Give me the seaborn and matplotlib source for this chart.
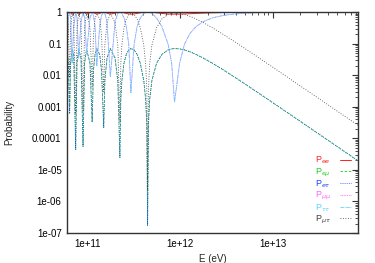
import seaborn as sns
import matplotlib.pyplot as plt
from matplotlib.ticker import FixedLocator, LogLocator, NullFormatter

# neutrino energy samples (eV)
energy = [6.000e10, 6.181e10, 6.384e10, 6.544e10, 6.794e10, 7.063e10, 7.427e10,
          7.672e10, 8.004e10, 8.476e10, 8.916e10, 9.271e10, 9.737e10, 1.0595e11,
          1.1187e11, 1.1558e11, 1.2027e11, 1.2553e11, 1.3485e11, 1.4127e11,
          1.4923e11, 1.5345e11, 1.6182e11, 1.7589e11, 1.9778e11, 2.1190e11,
          2.2317e11, 2.2821e11, 2.3421e11, 2.4722e11, 2.6176e11, 2.7813e11,
          2.9334e11, 3.1786e11, 3.4231e11, 3.7083e11, 4.0455e11, 4.2381e11,
          4.3627e11, 4.4478e11, 4.5408e11, 4.6842e11, 4.9444e11, 5.5625e11,
          6.3571e11, 7.4167e11, 8.0909e11, 8.6914e11, 9.8889e11, 1.1125e12,
          1.2714e12, 1.4833e12, 1.78e12, 2.225e12, 2.9667e12, 4.45e12,
          6.3571e12, 1.1125e13, 2.225e13, 4.45e13, 8.396e13]

p_ee = [0.8693, 0.9516, 0.9988, 0.9516, 0.8634, 0.9084, 0.99991, 0.9516, 0.8649,
        0.93, 0.99989, 0.9516, 0.8667, 0.9516, 0.99933, 0.9711, 0.9084, 0.8628,
        0.9084, 0.9711, 0.99955, 0.9866, 0.93, 0.8612, 0.93, 0.9866, 0.99995,
        0.9966, 0.9866, 0.9516, 0.9084, 0.8734, 0.8604, 0.8734, 0.9084, 0.9516,
        0.9866, 0.9966, 0.99945, 1.0, 0.99945, 0.9966, 0.9866, 0.9516, 0.9084,
        0.8734, 0.8634, 0.8602, 0.8634, 0.8734, 0.8889, 0.9084, 0.93, 0.9516,
        0.9711, 0.9866, 0.9933, 0.9978, 0.99945, 0.99986, 0.99996]

p_emu = [0.06535, 0.02418, 6.199e-4, 0.02418, 0.06829, 0.04582, 4.422e-5, 0.02418,
         0.06754, 0.035, 5.596e-5, 0.02418, 0.06667, 0.02418, 3.339e-4, 0.01443,
         0.04582, 0.06861, 0.04582, 0.01443, 2.237e-4, 0.006684, 0.035, 0.06938,
         0.035, 0.006684, 2.487e-5, 0.001713, 0.006684, 0.02418, 0.04582, 0.06332,
         0.0698, 0.06332, 0.04582, 0.02418, 0.006684, 0.001713, 2.760e-4, 1.727e-7,
         2.760e-4, 0.001713, 0.006684, 0.02418, 0.04582, 0.06332, 0.06829, 0.0699,
         0.06829, 0.06332, 0.05557, 0.04582, 0.035, 0.02418, 0.01443, 0.006684,
         0.003331, 0.0011, 2.760e-4, 6.906e-5, 1.940e-5]

p_etau = [0.06535, 0.02418, 6.199e-4, 0.02418, 0.06829, 0.04582, 4.422e-5, 0.02418,
          0.06754, 0.035, 5.596e-5, 0.02418, 0.06667, 0.02418, 3.339e-4, 0.01443,
          0.04582, 0.06861, 0.04582, 0.01443, 2.237e-4, 0.006684, 0.035, 0.06938,
          0.035, 0.006684, 2.487e-5, 0.001713, 0.006684, 0.02418, 0.04582, 0.06332,
          0.0698, 0.06332, 0.04582, 0.02418, 0.006684, 0.001713, 2.760e-4, 1.727e-7,
          2.760e-4, 0.001713, 0.006684, 0.02418, 0.04582, 0.06332, 0.06829, 0.0699,
          0.06829, 0.06332, 0.05557, 0.04582, 0.035, 0.02418, 0.01443, 0.006684,
          0.003331, 0.0011, 2.760e-4, 6.906e-5, 1.940e-5]

p_mumu = [0.06646, 0.6545, 0.9911, 0.6545, 0.02447, 0.3455, 0.99937, 0.6545,
          0.03511, 0.5, 0.9992, 0.6545, 0.04759, 0.6545, 0.9952, 0.7939, 0.3455,
          0.01985, 0.3455, 0.7939, 0.9968, 0.9045, 0.5, 0.008856, 0.5, 0.9045,
          0.99964, 0.9755, 0.9045, 0.6545, 0.3455, 0.09549, 0.00285, 0.09549,
          0.3455, 0.6545, 0.9045, 0.9755, 0.9961, 1.0, 0.9961, 0.9755, 0.9045,
          0.6545, 0.3455, 0.09549, 0.02447, 0.00142, 0.02447, 0.09549, 0.2061,
          0.3455, 0.5, 0.6545, 0.7939, 0.9045, 0.9524, 0.9843, 0.9961, 0.9990, 0.9997]

p_tautau = [0.06646, 0.6545, 0.9911, 0.6545, 0.02447, 0.3455, 0.99937, 0.6545,
            0.03511, 0.5, 0.9992, 0.6545, 0.04759, 0.6545, 0.9952, 0.7939, 0.3455,
            0.01985, 0.3455, 0.7939, 0.9968, 0.9045, 0.5, 0.008856, 0.5, 0.9045,
            0.99964, 0.9755, 0.9045, 0.6545, 0.3455, 0.09549, 0.00285, 0.09549,
            0.3455, 0.6545, 0.9045, 0.9755, 0.9961, 1.0, 0.9961, 0.9755, 0.9045,
            0.6545, 0.3455, 0.09549, 0.02447, 0.00142, 0.02447, 0.09549, 0.2061,
            0.3455, 0.5, 0.6545, 0.7939, 0.9045, 0.9524, 0.9843, 0.9961, 0.9990, 0.9997]

p_mutau = [0.8682, 0.3213, 0.008236, 0.3213, 0.9072, 0.6087, 5.875e-4, 0.3213,
           0.8973, 0.465, 7.434e-4, 0.3213, 0.8857, 0.3213, 0.004436, 0.1917,
           0.6087, 0.9115, 0.6087, 0.1917, 0.002971, 0.08881, 0.465, 0.9218, 0.465,
           0.08881, 3.304e-4, 0.02276, 0.08881, 0.3213, 0.6087, 0.8412, 0.9273,
           0.8412, 0.6087, 0.3213, 0.08881, 0.02276, 0.003667, 2.294e-6, 0.003667,
           0.02276, 0.08881, 0.3213, 0.6087, 0.8412, 0.9072, 0.9287, 0.9072, 0.8412,
           0.7383, 0.6087, 0.465, 0.3213, 0.1917, 0.08881, 0.04426, 0.01461,
           0.003667, 9.175e-4, 2.578e-4]

labels = [r"P$_{ee}$", r"P$_{e\mu}$", r"P$_{e\tau}$", r"P$_{\mu\mu}$",
          r"P$_{\tau\tau}$", r"P$_{\mu\tau}$"]
y_ticks = [1, 0.1, 0.01, 0.001, 0.0001, 1e-5, 1e-6, 1e-7]
y_tick_labels = ["1", "0.1", "0.01", "0.001", "0.0001", "1e-05", "1e-06", "1e-07"]
x_ticks = [1e11, 1e12, 1e13]
x_tick_labels = ["1e+11", "1e+12", "1e+13"]

sns.set_theme(style="white")
plt.rcParams["font.family"] = ["Liberation Sans", "DejaVu Sans"]

fig = plt.figure(figsize=(3.75, 2.63), dpi=100)
ax = fig.add_axes([0.179, 0.114, 0.776, 0.840])

series = [
    (p_ee, "#ff2020", "-", 0.7),
    (p_emu, "#20d020", (0, (3, 2)), 0.6),
    (p_etau, "#2040ff", (0, (1, 1.5)), 0.6),
    (p_mumu, "#ff60ff", (0, (1, 1)), 0.6),
    (p_tautau, "#60d0ff", (0, (4, 1, 1, 1)), 0.6),
    (p_mutau, "#404040", (0, (1, 2)), 0.6),
]
for (vals, color, ls, lw), lab in zip(series, labels):
    sns.lineplot(x=energy, y=vals, color=color, linestyle=ls, linewidth=lw,
                 label=lab, ax=ax, sort=False, estimator=None)

ax.set_xscale("log")
ax.set_yscale("log")
ax.set_xlim(6e10, 8.4e13)
ax.set_ylim(1e-7, 1)

ax.xaxis.set_major_locator(FixedLocator(x_ticks))
ax.set_xticklabels(x_tick_labels)
ax.yaxis.set_major_locator(FixedLocator(y_ticks))
ax.set_yticklabels(y_tick_labels)
ax.xaxis.set_minor_locator(LogLocator(base=10, subs=range(2, 10), numticks=20))
ax.yaxis.set_minor_locator(LogLocator(base=10, subs=range(2, 10), numticks=20))
ax.xaxis.set_minor_formatter(NullFormatter())
ax.yaxis.set_minor_formatter(NullFormatter())
ax.tick_params(which="both", direction="in", top=True, right=True,
               colors="#333333", labelcolor="black", labelsize=7, pad=4)
ax.tick_params(which="major", length=4, width=0.8)
ax.tick_params(which="minor", length=2, width=0.6)
for sp in ax.spines.values():
    sp.set_color("#333333")
    sp.set_linewidth(1.0)

ax.set_xlabel("E (eV)", fontsize=7, labelpad=4)
ax.set_ylabel("Probability", fontsize=7, labelpad=13)

leg = ax.legend(loc="lower right", frameon=False, fontsize=6.5, markerfirst=False,
                labelcolor="linecolor", handlelength=1.2, handletextpad=1.0,
                labelspacing=0.0, borderaxespad=0.4)

plt.savefig("out.png", dpi=100)
plt.close()
